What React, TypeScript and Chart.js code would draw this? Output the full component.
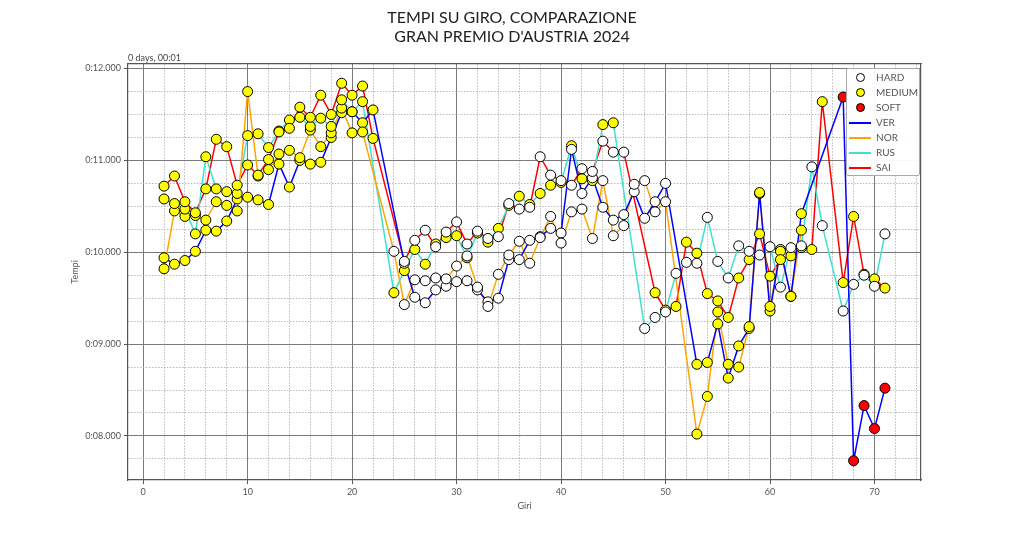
import React, { useEffect, useRef } from 'react';
import { Chart, registerables } from 'chart.js';

Chart.register(...registerables);

const FONT = 'Lato, "Open Sans", sans-serif';

const X_MIN = -1.45;
const X_MAX = 74.45;
const Y_MIN = 67.52;
const Y_MAX = 72.05;

const VER_LAPS = [2, 3, 4, 5, 6, 7, 8, 9, 10, 11, 12, 13, 14, 15, 16, 17, 18, 19, 20, 21, 22,
  25, 26, 27, 28, 29, 30, 31, 32, 33, 34, 35, 36, 37, 38, 39, 40, 41, 42, 43, 44, 45, 46, 47, 48, 49, 50,
  53, 54, 55, 56, 57, 58, 59, 60, 61, 62, 63,
  67, 68, 69, 70, 71];
const VER_TIMES = [69.94, 69.87, 69.91, 70.01, 70.24, 70.23, 70.34, 70.58, 70.60, 70.57, 70.52, 70.96, 70.71, 71.00, 70.96, 70.98, 71.25, 71.52, 71.53, 71.41, 71.55,
  69.88, 69.51, 69.45, 69.59, 69.63, 69.68, 69.69, 69.59, 69.46, 69.50, 69.92, 69.92, 70.13, 70.17, 70.26, 70.21, 71.12, 70.64, 70.81, 70.49, 70.35, 70.41, 70.66, 70.37, 70.55, 70.75,
  68.78, 68.80, 69.22, 68.63, 68.98, 69.17, 70.64, 69.36, 70.03, 69.52, 70.42,
  71.69, 67.73, 68.33, 68.08, 68.52];
const VER_STINTS: [number, number, string][] = [[2, 22, 'MEDIUM'], [25, 50, 'HARD'], [53, 63, 'MEDIUM'], [67, 71, 'SOFT']];

const NOR_LAPS = [2, 3, 4, 5, 6, 7, 8, 9, 10, 11, 12, 13, 14, 15, 16, 17, 18, 19, 20, 21,
  24, 25, 26, 27, 28, 29, 30, 31, 32, 33, 34, 35, 36, 37, 38, 39, 40, 41, 42, 43, 44, 45, 46, 47, 48, 49, 50,
  53, 54, 55, 56, 57, 58, 59, 60, 61, 62, 63];
const NOR_TIMES = [69.82, 70.45, 70.39, 70.40, 70.35, 70.55, 70.51, 70.45, 71.75, 70.83, 70.90, 71.07, 71.11, 71.03, 71.33, 71.15, 71.30, 71.57, 71.30, 71.31,
  70.01, 69.43, 69.70, 69.69, 69.72, 69.71, 69.85, 69.96, 69.62, 69.41, 69.76, 69.97, 70.12, 69.88, 70.16, 70.39, 70.10, 70.44, 70.47, 70.15, 70.78, 70.18, 70.29, 70.74, 70.78, 70.44, 70.55,
  68.02, 68.43, 69.35, 68.78, 68.75, 69.19, 70.65, 69.41, 70.01, 69.52, 70.24];
const NOR_STINTS: [number, number, string][] = [[2, 21, 'MEDIUM'], [24, 50, 'HARD'], [53, 63, 'MEDIUM']];

const RUS_LAPS = [2, 3, 4, 5, 6, 7, 8, 9, 10, 11, 12, 13, 14, 15, 16, 17, 18, 19, 20, 21,
  24, 25, 26, 27, 28, 29, 30, 31, 32, 33, 34, 35, 36, 37, 38, 39, 40, 41, 42, 43, 44, 45,
  48, 49, 50, 51, 52, 53, 54, 55, 56, 57, 58, 59, 60, 61, 62, 63, 64, 65,
  67, 68, 69, 70, 71];
const RUS_TIMES = [70.58, 70.53, 70.47, 70.20, 71.04, 70.69, 70.66, 70.64, 71.27, 71.29, 71.14, 71.32, 71.44, 71.47, 71.37, 71.46, 71.37, 71.66, 71.53, 71.64,
  69.56, 69.80, 70.03, 69.87, 70.09, 70.16, 70.18, 69.94, 70.21, 70.11, 70.26, 70.51, 70.61, 70.52, 70.64, 70.73, 70.76, 71.16, 70.80, 70.78, 71.39, 71.41,
  69.17, 69.29, 69.35, 69.77, 69.89, 69.88, 70.38, 69.90, 69.72, 70.07, 70.01, 69.97, 70.06, 69.62, 70.05, 70.07, 70.93, 70.29,
  69.36, 69.65, 69.75, 69.63, 70.20];
const RUS_STINTS: [number, number, string][] = [[2, 21, 'MEDIUM'], [24, 45, 'MEDIUM'], [48, 71, 'HARD']];

const SAI_LAPS = [2, 3, 4, 5, 6, 7, 8, 9, 10, 11, 12, 13, 14, 15, 16, 17, 18, 19, 20, 21, 22,
  25, 26, 27, 28, 29, 30, 31, 32, 33, 34, 35, 36, 37, 38, 39, 40, 41, 42, 43, 44, 45, 46,
  49, 50, 51, 52, 53, 54, 55, 56, 57, 58, 59, 60, 61, 62, 63, 64, 65,
  67, 68, 69, 70, 71];
const SAI_TIMES = [70.72, 70.83, 70.55, 70.43, 70.69, 71.23, 71.15, 70.73, 70.95, 70.84, 71.01, 71.31, 71.35, 71.58, 71.47, 71.71, 71.50, 71.84, 71.71, 71.81, 71.24,
  69.90, 70.13, 70.24, 70.06, 70.22, 70.33, 70.09, 70.23, 70.15, 70.17, 70.53, 70.47, 70.49, 71.04, 70.84, 70.78, 70.73, 70.91, 70.88, 71.21, 71.09, 71.09,
  69.56, 69.37, 69.41, 70.11, 69.99, 69.55, 69.47, 69.29, 69.72, 69.92, 70.20, 69.74, 69.92, 69.96, 70.05, 70.03, 71.64,
  69.67, 70.39, 69.76, 69.71, 69.61];
const SAI_STINTS: [number, number, string][] = [[2, 22, 'MEDIUM'], [25, 46, 'HARD'], [49, 71, 'MEDIUM']];

const DRIVERS = [
  { name: 'VER', color: '#0000ff', laps: VER_LAPS, times: VER_TIMES, stints: VER_STINTS },
  { name: 'NOR', color: '#ffa500', laps: NOR_LAPS, times: NOR_TIMES, stints: NOR_STINTS },
  { name: 'RUS', color: '#40e0d0', laps: RUS_LAPS, times: RUS_TIMES, stints: RUS_STINTS },
  { name: 'SAI', color: '#ff0000', laps: SAI_LAPS, times: SAI_TIMES, stints: SAI_STINTS },
];

const COMPOUNDS = ['HARD', 'MEDIUM', 'SOFT'];
const COMPOUND_COLORS: Record<string, string> = { HARD: '#ffffff', MEDIUM: '#ffff00', SOFT: '#ff0000' };

function tyreFor(stints: [number, number, string][], lap: number): string {
  for (const s of stints) if (lap >= s[0] && lap <= s[1]) return s[2];
  return 'HARD';
}

const offsetTextPlugin = {
  id: 'offsetText',
  afterDraw(chart: any) {
    const { ctx, chartArea } = chart;
    ctx.save();
    ctx.font = `9px ${FONT}`;
    ctx.fillStyle = '#444';
    ctx.textAlign = 'left';
    ctx.textBaseline = 'bottom';
    ctx.fillText('0 days, 00:01', chartArea.left, chartArea.top - 1);
    ctx.restore();
  },
};

function isWhole(v: number, step: number) {
  const r = v / step;
  return Math.abs(r - Math.round(r)) < 1e-6;
}

function Legend() {
  const markerRow = (label: string, fill: string) => (
    <div key={label} style={{ display: 'flex', alignItems: 'center', height: 15 }}>
      <div style={{ width: 22, display: 'flex', justifyContent: 'center' }}>
        <div style={{ width: 9, height: 9, borderRadius: '50%', background: fill, border: '1px solid #000', boxSizing: 'border-box' }} />
      </div>
      <span style={{ marginLeft: 5 }}>{label}</span>
    </div>
  );
  const lineRow = (label: string, color: string) => (
    <div key={label} style={{ display: 'flex', alignItems: 'center', height: 15 }}>
      <div style={{ width: 22, height: 2, background: color }} />
      <span style={{ marginLeft: 5 }}>{label}</span>
    </div>
  );
  return (
    <div style={{
      position: 'absolute', left: 846, top: 68, width: 74, height: 108, boxSizing: 'border-box',
      border: '1px solid #aaa', borderRadius: 2, background: 'rgba(255,255,255,0.95)',
      padding: '1px 0 0 2px', fontFamily: FONT, fontSize: 10, color: '#555', lineHeight: '15px',
    }}>
      {COMPOUNDS.map((c) => markerRow(c, COMPOUND_COLORS[c]))}
      {DRIVERS.map((d) => lineRow(d.name, d.color))}
    </div>
  );
}

export default function App() {
  const ref = useRef<HTMLCanvasElement>(null);

  useEffect(() => {
    const lineSets = DRIVERS.map((d) => ({
      type: 'scatter' as const,
      label: d.name,
      data: d.laps.map((l, i) => ({ x: l, y: d.times[i] })),
      showLine: true,
      borderColor: d.color,
      backgroundColor: d.color,
      borderWidth: 1.5,
      pointRadius: 0,
      order: 2,
    }));
    const tyreSets = COMPOUNDS.map((c) => {
      const pts: { x: number; y: number }[] = [];
      DRIVERS.forEach((d) => {
        d.laps.forEach((l, i) => {
          if (tyreFor(d.stints, l) === c) pts.push({ x: l, y: d.times[i] });
        });
      });
      return {
        type: 'scatter' as const,
        label: c,
        data: pts,
        showLine: false,
        backgroundColor: COMPOUND_COLORS[c],
        borderColor: '#000',
        borderWidth: 1,
        pointRadius: 5,
        order: 1,
      };
    });

    const tickFont = { family: FONT, size: 9 };
    const chart = new Chart(ref.current as HTMLCanvasElement, {
      type: 'scatter',
      data: { datasets: [...tyreSets, ...lineSets] as any },
      plugins: [offsetTextPlugin],
      options: {
        responsive: false,
        animation: false,
        devicePixelRatio: 1,
        events: [],
        layout: { padding: 0 },
        plugins: {
          legend: { display: false },
          tooltip: { enabled: false },
          title: {
            display: true,
            text: ['TEMPI SU GIRO, COMPARAZIONE', "GRAN PREMIO D'AUSTRIA 2024"],
            color: '#222',
            font: { family: FONT, size: 16, weight: 'normal' },
            padding: { top: 8.4, bottom: 17.2 },
          },
        },
        scales: {
          x: {
            type: 'linear',
            position: 'bottom',
            min: X_MIN,
            max: X_MAX,
            ticks: { stepSize: 10, includeBounds: false, color: '#555', font: tickFont, padding: 3, callback: (v: any) => String(v) },
            grid: { color: '#7a7a7a', lineWidth: 1, drawTicks: true, tickLength: 4, tickColor: '#555' },
            border: { display: true, color: '#555', width: 1.2 },
            title: { display: true, text: 'Giri', color: '#555', font: tickFont, padding: { top: 0, bottom: 28 } },
            afterFit: (s: any) => { s.height = 59; },
          },
          xMinor: {
            type: 'linear',
            position: 'top',
            min: X_MIN,
            max: X_MAX,
            ticks: { stepSize: 2, includeBounds: false, display: false },
            grid: {
              color: (ctx: any) => (ctx.tick && isWhole(ctx.tick.value, 10) ? 'rgba(0,0,0,0)' : '#a8a8a8'),
              lineWidth: 0.8,
              drawTicks: false,
            },
            border: { display: true, color: '#555', width: 1.2, dash: [1.5, 1.5] },
            afterFit: (s: any) => { s.height = 0; },
          },
          y: {
            type: 'linear',
            position: 'left',
            min: Y_MIN,
            max: Y_MAX,
            ticks: {
              stepSize: 1, includeBounds: false, color: '#555', font: tickFont, padding: 3,
              callback: (v: any) => '0:' + String(Math.round(Number(v) - 60)).padStart(2, '0') + '.000',
            },
            grid: { color: '#7a7a7a', lineWidth: 1, drawTicks: true, tickLength: 4, tickColor: '#555' },
            border: { display: true, color: '#555', width: 1.2 },
            title: { display: true, text: 'Tempi', color: '#555', font: tickFont, padding: { top: 69.6, bottom: 0 } },
            afterFit: (s: any) => { s.width = 128; },
          },
          yMinor: {
            type: 'linear',
            position: 'right',
            min: Y_MIN,
            max: Y_MAX,
            ticks: { stepSize: 0.25, includeBounds: false, display: false },
            grid: {
              color: (ctx: any) => (ctx.tick && isWhole(ctx.tick.value, 1) ? 'rgba(0,0,0,0)' : '#a8a8a8'),
              lineWidth: 0.8,
              drawTicks: false,
            },
            border: { display: true, color: '#555', width: 1.2, dash: [1.5, 1.5] },
            afterFit: (s: any) => { s.width = 103; },
          },
        },
      } as any,
    });
    return () => chart.destroy();
  }, []);

  return (
    <div style={{ position: 'fixed', left: 0, top: 0, width: 1024, height: 539, background: '#fff' }}>
      <canvas ref={ref} width={1024} height={539} style={{ display: 'block', width: 1024, height: 539 }} />
      <Legend />
    </div>
  );
}
